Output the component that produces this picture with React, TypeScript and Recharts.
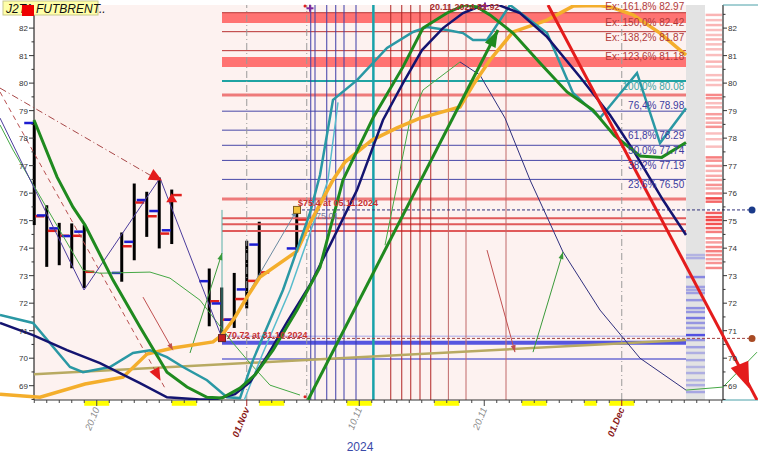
import React from 'react'
import {
  ComposedChart,
  XAxis,
  YAxis,
  Line,
  Bar,
  ReferenceLine,
  ReferenceArea,
  ReferenceDot,
} from 'recharts'

const W = 758
const H = 454
const X_MIN = -7.74
const X_MAX = 52.9
const Y_MIN = 68.48
const Y_MAX = 82.84
const AXIS_L = -5.02
const AXIS_R = 50.1
const PLOT_END = 47.14
const GRAY_END = 48.66
const FIB_START = 10.02
const FONT = 'Arial, "Liberation Sans", sans-serif'

// x = trading day offset from 20.10, y = price
const bars = [
  [-5, 78.55, 78.6, 74.84, 75.16],
  [-4, 75.19, 75.56, 73.32, 74.63],
  [-3, 74.72, 74.92, 73.38, 74.45],
  [-2, 74.44, 74.9, 73.27, 74.45],
  [-1, 74.6, 74.84, 72.55, 73.14],
  [2, 73.1, 74.57, 72.78, 74.07],
  [3, 74.23, 76.35, 73.56, 75.66],
  [4, 75.75, 76.05, 74.41, 75.16],
  [5, 75.35, 76.57, 73.99, 74.53],
  [6, 74.65, 76.13, 74.15, 75.93],
  [9, 72.8, 73.26, 71.16, 72.07],
  [10, 71.99, 72.57, 70.72, 71.4],
  [11, 71.4, 73.1, 71.1, 72.15],
  [12, 72.5, 74.27, 71.81, 72.81],
  [13, 74.13, 74.96, 72.93, 73.12],
  [16, 73.99, 75.4, 73.93, 75.04],
]

const orangeMA = [
  [-7.74, 68.69], [-4.54, 68.58], [-0.94, 69.06], [2.1, 69.31], [4.02, 70.15], [6.1, 70.37],
  [9.3, 70.59], [10.02, 70.84], [11.06, 71.49], [12.02, 72.22], [13.06, 72.95], [16.02, 73.89],
  [17.06, 74.91], [18.9, 76.48], [19.86, 77.13], [22.02, 77.93], [24.02, 78.37], [25.86, 78.73],
  [29.06, 79.13], [30.1, 79.93], [31.46, 80.84], [33.3, 81.86], [36.02, 82.29], [38.1, 82.8],
  [40.2, 82.82], [41.06, 82.77], [42.9, 82.48], [45.06, 81.82], [47.14, 81.02],
]

const navyMA = [
  [-7.74, 71.28], [-5.1, 70.84], [-2.38, 70.29], [0.26, 69.82], [3.46, 69.09], [5.62, 68.58],
  [8.26, 68.5], [9.46, 68.5], [11.06, 68.69], [12.26, 69.13], [13.62, 70.07], [15.22, 71.31],
  [17.06, 72.66], [18.66, 74.11], [20.82, 76.11], [22.9, 78.66], [24.5, 80.0], [26.02, 81.2],
  [27.7, 82.0], [29.3, 82.55], [30.9, 82.84], [32.0, 82.86], [33.86, 82.55], [36.02, 81.68],
  [38.66, 80.22], [41.06, 78.84], [42.9, 77.57], [45.3, 75.75], [47.14, 74.48],
]

const greenMA = [
  [-5.02, 78.66], [-3.18, 76.59], [-1.9, 75.49], [-0.94, 74.84], [1.3, 72.84], [3.46, 71.13],
  [5.62, 69.49], [7.22, 68.95], [8.82, 68.58], [10.02, 68.55], [11.46, 68.91], [12.66, 69.39],
  [14.1, 70.29], [16.02, 71.75], [17.86, 73.31], [19.7, 76.48], [22.1, 78.73], [24.5, 80.59],
  [26.1, 82.0], [28.02, 82.55], [29.46, 82.84], [30.42, 82.77], [31.46, 82.48], [33.3, 81.82],
  [35.46, 80.73], [37.62, 79.68], [39.7, 79.02], [41.4, 78.1], [43.46, 77.35], [45.2, 77.3],
  [47.14, 77.84],
]

const tealMA = [
  [-7.74, 71.57], [-5.1, 71.28], [-2.14, 69.68], [-1.1, 69.49], [1.06, 69.68], [2.9, 70.19],
  [4.26, 70.29], [5.62, 70.04], [6.9, 69.68], [8.82, 69.2], [10.42, 68.58], [11.46, 68.55],
  [12.5, 69.93], [14.9, 72.48], [17.06, 75.28], [17.86, 76.66], [18.9, 79.39], [20.82, 80.11],
  [23.22, 81.28], [25.3, 81.86], [26.42, 82.04], [28.02, 81.93], [29.3, 81.82], [30.1, 81.57],
  [31.22, 81.57], [33.06, 82.84], [36.02, 81.82], [38.1, 79.64], [40.26, 78.73], [43.22, 80.37],
  [45.06, 77.82], [47.14, 79.09],
]

const cyanThin = [
  [11.8, 68.48], [13.22, 70.11], [15.46, 72.48], [17.7, 75.39], [18.5, 76.48], [19.3, 79.3],
]

const greenThin = [
  [-7.74, 78.48], [-6.7, 77.57], [-1.1, 73.2], [0.26, 73.09], [4.26, 73.13], [5.86, 72.91],
  [8.26, 72.11], [10.9, 70.55], [12.26, 69.82], [13.86, 69.02], [16.26, 68.66],
]

const zigzag = [[-7.74, 78.73], [-1.02, 72.48], [5.06, 76.55], [10.02, 70.73]]

const bellUp = [[23.06, 74.11], [25.06, 78.66], [26.1, 79.75], [29.06, 80.77]]
const bellDown = [
  [29.06, 80.77], [30.66, 80.29], [32.66, 78.73], [34.66, 76.48], [36.5, 74.66], [37.3, 73.86],
  [40.26, 71.75], [43.46, 70.0], [47.14, 68.84],
]
const bellTail = [[47.14, 68.84], [50.1, 68.95], [52.82, 70.22]]

const trendA = [[-7.74, 79.82], [4.66, 76.55]]
const trendB = [[-7.74, 79.68], [5.46, 68.91]]
const olive = [[-5.02, 69.42], [47.14, 70.66]]
const greenArrow = [[16.9, 68.48], [32.1, 81.93]]
const redArrow = [[36.1, 82.84], [52.82, 68.48]]
const grayArrow = [[10.02, 70.73], [16.02, 75.39]]
const thinGreenArrows = [
  [[7.46, 70.19], [10.02, 73.82]],
  [[34.9, 70.22], [37.3, 73.86]],
]
const thinRedArrows = [
  [[3.7, 72.22], [6.1, 70.29]],
  [[31.22, 73.93], [33.46, 70.22]],
]

const fibLevels = [
  ['Ex: 161,8%', 82.97],
  ['Ex: 150,0%', 82.42],
  ['Ex: 138,2%', 81.87],
  ['Ex: 123,6%', 81.18],
  ['100,0%', 80.08],
  ['76,4%', 78.98],
  ['61,8%', 78.29],
  ['50,0%', 77.74],
  ['38,2%', 77.19],
  ['23,6%', 76.5],
]

const redBands = [[82.19, 82.55], [80.59, 80.95]]
const redThinLevels = [82.56, 81.87, 81.18]
const pinkLevels = [79.57, 75.79]
const redLowLevels = [75.09, 74.87, 74.62]

const blueVerticals = [17.12, 17.46, 18.4, 19.12, 19.78, 20.74]
const tealVertical = 22.13
const redVerticals = [23.52, 24.4, 25.12, 25.86, 26.72, 28.13, 29.54, 32.74]
const dashVerticals = [12, 16.8, 42]

const weekends = [[-1, 1], [6, 8], [13, 15], [20, 22], [27, 29], [34, 36], [39, 40], [41, 43]]

const redProfile = [
  [82.48, 0.35], [82.29, 0.3], [82.11, 0.35], [81.93, 0.3], [81.75, 0.3], [81.59, 0.35],
  [81.41, 0.3], [81.23, 0.3], [81.02, 0.3], [80.78, 0.35], [80.6, 0.3], [80.29, 0.3],
  [80.11, 0.3], [79.93, 0.3], [79.57, 0.55], [79.45, 0.5], [79.27, 0.3], [79.12, 0.35],
  [78.87, 0.45], [78.72, 0.4], [78.56, 0.4], [78.41, 0.5], [78.17, 0.3], [77.96, 0.3],
  [77.69, 0.3], [77.3, 0.6], [77.18, 0.5], [76.99, 0.45], [76.81, 0.35], [76.63, 0.4],
  [76.48, 0.45], [76.3, 0.5], [76.17, 0.4], [75.99, 0.55], [75.81, 0.85], [75.69, 0.7],
  [75.28, 0.75], [75.13, 0.8], [75.02, 0.85], [74.88, 0.8], [74.73, 0.75], [74.59, 0.6],
  [74.36, 0.5], [74.21, 0.45], [74.04, 0.55], [73.89, 0.6], [73.75, 0.5], [73.6, 0.45],
  [73.46, 0.5], [73.28, 0.55],
]

const blueProfile = [
  [73.75, 0.3], [73.64, 0.35], [72.95, 0.6], [72.59, 0.45], [72.48, 0.4], [72.37, 0.45],
  [72.11, 0.5], [71.82, 0.55], [71.68, 0.5], [71.46, 0.7], [71.28, 0.5], [71.1, 0.45],
  [70.84, 0.95], [70.66, 0.5], [70.4, 0.45], [70.19, 0.35], [69.93, 0.4], [69.68, 0.3],
  [69.46, 0.35], [69.2, 0.3], [69.02, 0.35], [68.77, 0.4],
]

const priceTicks = [69, 70, 71, 72, 73, 74, 75, 76, 77, 78, 79, 80, 81, 82]
const halfTicks = [68.5, 69.5, 70.5, 71.5, 72.5, 73.5, 74.5, 75.5, 76.5, 77.5, 78.5, 79.5, 80.5, 81.5, 82.5]
const dayTicks = Array.from({ length: 56 }, (_, i) => i - 5)
const dateLabels: Record<number, string> = { 0: '20.10', 12: '01.Nov', 21: '10.11', 31: '20.11', 42: '01.Dec' }
const monthStarts = [12, 42]

const barRows = bars.map(([d, open, high, low, close]) => ({ d, open, high, low, close }))
const pts = (a: number[][]) => a.map(([d, p]) => ({ d, p }))

const DayTick = (props: any) => {
  const { x, y, payload } = props
  const v = payload.value
  const lab = dateLabels[v]
  const month = monthStarts.includes(v)
  return (
    <g>
      <line x1={x} x2={x} y1={y} y2={y + (lab ? 6 : 3)} stroke={month ? '#a02020' : '#444'} />
      {lab && (
        <text
          x={x + 3}
          y={y + 9}
          transform={`rotate(-68, ${x + 3}, ${y + 9})`}
          textAnchor="end"
          fontSize={9.5}
          fontStyle="italic"
          fontWeight={month ? 'bold' : 'normal'}
          fill={month ? '#8b1a1a' : '#8c8c8c'}
          fontFamily={FONT}
        >
          {lab}
        </text>
      )}
    </g>
  )
}

const OhlcShape = (p: any) => {
  const { x, y, width, height, payload } = p
  if (!payload) return <g />
  const top = Math.min(y, y + height)
  const h = Math.abs(height)
  const cx = x + width / 2
  const k = h / (payload.high - payload.low)
  const yo = top + (payload.high - payload.open) * k
  const yc = top + (payload.high - payload.close) * k
  return (
    <g>
      <line x1={cx} x2={cx} y1={top} y2={top + h} stroke="#000" strokeWidth={3} />
      <line x1={cx - 10} x2={cx - 1} y1={yo} y2={yo} stroke="#1c1cd0" strokeWidth={2.5} />
      <line x1={cx + 1} x2={cx + 10} y1={yc} y2={yc} stroke="#e0201c" strokeWidth={2.5} />
    </g>
  )
}

const arrowHead = (angle: number, len: number, wid: number, fill: string) => (p: any) => {
  const a = (angle * Math.PI) / 180
  const bx = p.cx - len * Math.cos(a)
  const by = p.cy - len * Math.sin(a)
  const nx = -Math.sin(a) * (wid / 2)
  const ny = Math.cos(a) * (wid / 2)
  return <polygon points={`${p.cx},${p.cy} ${bx + nx},${by + ny} ${bx - nx},${by - ny}`} fill={fill} />
}

const textShape = (text: string, dx: number, dy: number, fill: string, size = 9, anchor = 'start', weight = 'normal') => (p: any) => (
  <text x={p.cx + dx} y={p.cy + dy} fill={fill} fontSize={size} textAnchor={anchor} fontWeight={weight} fontFamily={FONT}>
    {text}
  </text>
)

const fibColor = (name: string) => (name.startsWith('Ex') ? '#b03a3a' : name.startsWith('100') ? '#3aa5a5' : '#3c3ca0')

export default function App() {
  const line = (data: number[][], stroke: string, width: number, extra: any = {}) => (
    <Line
      data={pts(data)}
      dataKey="p"
      type="linear"
      stroke={stroke}
      strokeWidth={width}
      dot={false}
      activeDot={false}
      isAnimationActive={false}
      {...extra}
    />
  )

  return (
    <div style={{ position: 'fixed', left: 0, top: 0, width: W, height: H, background: '#fff' }}>
      <ComposedChart width={W} height={H} data={barRows} margin={{ top: 5, right: 0, bottom: 0, left: 0 }}>
        <XAxis
          type="number"
          dataKey="d"
          domain={[X_MIN, X_MAX]}
          allowDataOverflow
          ticks={dayTicks}
          interval={0}
          tick={<DayTick />}
          tickLine={false}
          axisLine={false}
          tickSize={0}
          tickMargin={0}
          height={54}
        />
        <YAxis type="number" hide domain={[Y_MIN, Y_MAX]} allowDataOverflow />

        {/* backgrounds */}
        <ReferenceArea x1={AXIS_L} x2={PLOT_END} y1={Y_MIN} y2={Y_MAX} fill="#fdf2f0" fillOpacity={1} stroke="none" />
        <ReferenceArea x1={PLOT_END} x2={GRAY_END} y1={Y_MIN} y2={Y_MAX} fill="#e3e3e3" fillOpacity={1} stroke="none" />

        {/* volume profile */}
        {redProfile.map(([v, a], i) => (
          <ReferenceArea key={'rp' + i} x1={GRAY_END + 0.05} x2={AXIS_R - 0.08} y1={v - 0.045} y2={v + 0.045} fill="#f02828" fillOpacity={a} stroke="none" />
        ))}
        {blueProfile.map(([v, a], i) => (
          <ReferenceArea key={'bp' + i} x1={PLOT_END} x2={GRAY_END} y1={v - 0.045} y2={v + 0.045} fill="#4a4ae0" fillOpacity={a} stroke="none" />
        ))}

        {/* horizontal levels */}
        {redBands.map(([a, b], i) => (
          <ReferenceArea key={'rb' + i} x1={FIB_START} x2={PLOT_END} y1={a} y2={b} fill="#ff4848" fillOpacity={0.75} stroke="none" />
        ))}
        {redThinLevels.map((v, i) => (
          <ReferenceLine key={'rt' + i} segment={[{ x: FIB_START, y: v }, { x: PLOT_END, y: v }]} stroke="#b83030" strokeWidth={1} />
        ))}
        {pinkLevels.map((v, i) => (
          <ReferenceLine key={'pl' + i} segment={[{ x: FIB_START, y: v }, { x: PLOT_END, y: v }]} stroke="#ee7a7a" strokeWidth={3} />
        ))}
        {redLowLevels.map((v, i) => (
          <ReferenceLine key={'rl' + i} segment={[{ x: FIB_START, y: v }, { x: PLOT_END, y: v }]} stroke="#e05a5a" strokeWidth={2} />
        ))}
        {fibLevels.slice(5).map(([, v], i) => (
          <ReferenceLine key={'fb' + i} segment={[{ x: FIB_START, y: v as number }, { x: PLOT_END, y: v as number }]} stroke="#4848a8" strokeWidth={1} />
        ))}
        <ReferenceLine segment={[{ x: FIB_START, y: 80.08 }, { x: PLOT_END, y: 80.08 }]} stroke="#1fa3a3" strokeWidth={2} />
        <ReferenceLine segment={[{ x: FIB_START, y: 70.8 }, { x: PLOT_END, y: 70.8 }]} stroke="#a8a8e8" strokeWidth={1} />
        <ReferenceLine segment={[{ x: FIB_START, y: 70.56 }, { x: PLOT_END, y: 70.56 }]} stroke="#5656e0" strokeWidth={4} />
        <ReferenceLine segment={[{ x: FIB_START, y: 69.97 }, { x: PLOT_END, y: 69.97 }]} stroke="#6c6cd4" strokeWidth={1.5} />

        {/* verticals */}
        {dashVerticals.map((v, i) => (
          <ReferenceLine key={'dv' + i} x={v} stroke="#9a9a9a" strokeDasharray="7 3 1 3" />
        ))}
        {blueVerticals.map((v, i) => (
          <ReferenceLine key={'bv' + i} x={v} stroke="#3c3ca8" strokeWidth={1} />
        ))}
        <ReferenceLine x={tealVertical} stroke="#18a2aa" strokeWidth={2.5} />
        {redVerticals.map((v, i) => (
          <ReferenceLine key={'rv' + i} x={v} stroke={i < 5 ? '#b02424' : '#c06868'} strokeWidth={1} />
        ))}
        <ReferenceLine segment={[{ x: FIB_START, y: 70.66 }, { x: FIB_START, y: 75.39 }]} stroke="#58b0a8" strokeWidth={1} />

        {/* dotted markers to the right */}
        <ReferenceLine segment={[{ x: FIB_START, y: 70.72 }, { x: 52.42, y: 70.72 }]} stroke="#a04040" strokeDasharray="3 2" />
        <ReferenceLine segment={[{ x: 16.02, y: 75.39 }, { x: 52.42, y: 75.39 }]} stroke="#30307a" strokeDasharray="3 2" />

        {/* axes frame */}
        <ReferenceLine x={AXIS_L} stroke="#000" strokeWidth={1} />
        <ReferenceLine x={AXIS_R} stroke="#000" strokeWidth={1} />
        <ReferenceLine segment={[{ x: AXIS_L, y: Y_MIN }, { x: AXIS_R, y: Y_MIN }]} stroke="#333" strokeWidth={1} />
        <ReferenceLine segment={[{ x: AXIS_R, y: Y_MIN }, { x: X_MAX, y: Y_MIN }]} stroke="#4aa0a8" strokeWidth={1} />
        <ReferenceLine segment={[{ x: AXIS_R, y: Y_MAX }, { x: X_MAX, y: Y_MAX }]} stroke="#4aa0a8" strokeWidth={1} />
        {weekends.map(([a, b], i) => (
          <ReferenceArea key={'we' + i} x1={a} x2={b} y1={68.45} y2={68.27} fill="#ffff00" fillOpacity={1} stroke="none" ifOverflow="visible" />
        ))}

        {/* indicator lines */}
        {line(olive, '#b8aa62', 2.5)}
        {line(trendA, '#a84848', 1, { strokeDasharray: '7 3 1 3' })}
        {line(trendB, '#b85050', 1, { strokeDasharray: '5 4' })}
        {line(greenThin, '#45a845', 1)}
        {line(zigzag, '#4b3c9c', 1)}
        {line(bellUp, '#45a845', 1)}
        {line(bellDown, '#30307e', 1)}
        {line(bellTail, '#45a845', 1)}
        {line(grayArrow, '#6a8aa0', 1)}
        {thinGreenArrows.map((a, i) => <React.Fragment key={'ga' + i}>{line(a, '#3a9a3a', 1)}</React.Fragment>)}
        {thinRedArrows.map((a, i) => <React.Fragment key={'ra' + i}>{line(a, '#c05050', 1)}</React.Fragment>)}
        {line(cyanThin, '#58bccc', 1.5)}
        {line(orangeMA, '#f4ae2c', 3.5)}
        {line(tealMA, '#2a98a4', 2.5)}
        {line(navyMA, '#141470', 2.5)}
        {line(greenMA, '#1f8a1f', 3)}
        {line(greenArrow, '#1f8a1f', 3)}
        {line(redArrow, '#e41c1c', 3)}

        <Bar dataKey={(e: any) => [e.low, e.high]} barSize={3} shape={OhlcShape} isAnimationActive={false} />

        {/* arrow heads */}
        <ReferenceDot x={32.1} y={81.93} r={0} ifOverflow="visible" shape={arrowHead(-62.8, 17, 12, '#1f8a1f')} />
        <ReferenceDot x={52.2} y={68.9} r={0} ifOverflow="visible" shape={arrowHead(68, 26, 19, '#e41c1c')} />
        <ReferenceDot x={5.22} y={76.46} r={0} shape={arrowHead(28, 13, 12, '#e41c1c')} />
        <ReferenceDot x={5.1} y={69.18} r={0} shape={arrowHead(62, 13, 11, '#e41c1c')} />
        <ReferenceDot x={6.0} y={76.0} r={0} shape={arrowHead(-90, 9, 11, '#e41c1c')} />
        <ReferenceDot x={16.02} y={75.39} r={0} shape={arrowHead(-59.6, 7, 5, '#6a8aa0')} />
        <ReferenceDot x={10.02} y={73.82} r={0} shape={arrowHead(-72, 7, 5, '#3a9a3a')} />
        <ReferenceDot x={37.3} y={73.86} r={0} shape={arrowHead(-73, 7, 5, '#3a9a3a')} />
        <ReferenceDot x={6.1} y={70.29} r={0} shape={arrowHead(60, 7, 5, '#c05050')} />
        <ReferenceDot x={33.46} y={70.22} r={0} shape={arrowHead(75, 7, 5, '#c05050')} />

        {/* markers */}
        <ReferenceDot x={10.02} y={70.73} r={0} shape={(p: any) => <rect x={p.cx - 3.5} y={p.cy - 3.5} width={7} height={7} fill="#c82020" stroke="#6a2020" />} />
        <ReferenceDot x={16.02} y={75.39} r={0} shape={(p: any) => <rect x={p.cx - 3.5} y={p.cy - 3.5} width={7} height={7} fill="#f2c23c" stroke="#806020" />} />
        <ReferenceDot x={52.42} y={75.39} r={3.5} fill="#1a3a8a" stroke="none" ifOverflow="visible" />
        <ReferenceDot x={52.42} y={70.72} r={3.5} fill="#a84a24" stroke="none" ifOverflow="visible" />
        <ReferenceDot x={16.66} y={82.8} r={1.5} fill="#e02020" stroke="none" />
        <ReferenceDot x={16.66} y={68.6} r={1.5} fill="#e02020" stroke="none" />
        {[[17.06, 82.72], [31.06, 82.8]].map(([x, y], i) => (
          <ReferenceDot key={'pm' + i} x={x} y={y} r={0} ifOverflow="visible" shape={(p: any) => (
            <g stroke="#7a2aa0" strokeWidth={2}>
              <line x1={p.cx - 3.5} x2={p.cx + 3.5} y1={p.cy} y2={p.cy} />
              <line x1={p.cx} x2={p.cx} y1={p.cy - 3.5} y2={p.cy + 3.5} />
            </g>
          )} />
        ))}

        {/* texts */}
        <ReferenceDot x={10.02} y={70.73} r={0} shape={textShape('70.72 at 31.10.2024', 5, 0, '#c83030', 9, 'start', 'bold')} />
        <ReferenceDot x={16.02} y={75.39} r={0} shape={textShape('$75.4 at 05.11.2024', 1, -4, '#c83030', 9, 'start', 'bold')} />
        <ReferenceDot x={17.54} y={75.01} r={0} shape={textShape('75.01', 0, -1, '#7a7a98', 9)} />
        <ReferenceDot x={26.66} y={82.66} r={0} shape={textShape('20.11.2024 82.92', 0, 0, '#a83030', 9, 'start', 'bold')} />
        {fibLevels.map(([name, v], i) => (
          <ReferenceDot
            key={'fl' + i}
            x={47.0}
            y={v as number}
            r={0}
            ifOverflow="visible"
            shape={textShape(`${name} ${(v as number).toFixed(2)}`, 0, name === '76,4%' ? -2 : 9, fibColor(name as string), 10, 'end')}
          />
        ))}

        {/* left axis */}
        {priceTicks.map((v) => (
          <ReferenceDot key={'lt' + v} x={AXIS_L} y={v} r={0} shape={(p: any) => (
            <g>
              <line x1={p.cx - 5} x2={p.cx} y1={p.cy} y2={p.cy} stroke="#333" />
              <text x={p.cx - 6} y={p.cy + 3} fontSize={8} textAnchor="end" fill="#333" fontFamily={FONT}>{v}</text>
            </g>
          )} />
        ))}
        {halfTicks.map((v) => (
          <ReferenceDot key={'lh' + v} x={AXIS_L} y={v} r={0} shape={(p: any) => <line x1={p.cx - 2.5} x2={p.cx} y1={p.cy} y2={p.cy} stroke="#333" />} />
        ))}
        {/* right axis */}
        {priceTicks.map((v) => (
          <ReferenceDot key={'rt' + v} x={AXIS_R} y={v} r={0} shape={(p: any) => (
            <g>
              <line x1={p.cx} x2={p.cx + 4} y1={p.cy} y2={p.cy} stroke="#333" />
              <text x={p.cx + 5} y={p.cy + 3} fontSize={8} fill="#333" fontFamily={FONT}>{v}</text>
            </g>
          )} />
        ))}
        {halfTicks.map((v) => (
          <ReferenceDot key={'rh' + v} x={AXIS_R} y={v} r={0} shape={(p: any) => <line x1={p.cx} x2={p.cx + 2.5} y1={p.cy} y2={p.cy} stroke="#333" />} />
        ))}

        {/* title box and year */}
        <ReferenceDot x={AXIS_L} y={Y_MAX} r={0} ifOverflow="visible" shape={(p: any) => (
          <g>
            <rect x={p.cx - 31} y={p.cy - 4} width={95} height={14} fill="#ffffa8" stroke="#c8c890" />
            <text x={p.cx - 28} y={p.cy + 7.5} fontSize={12} fontStyle="italic" fill="#111" fontFamily={FONT}>J2TA FUTBRENT..</text>
            <rect x={p.cx - 12} y={p.cy} width={12} height={11} fill="#ee0000" />
          </g>
        )} />
        <ReferenceDot x={21.06} y={Y_MIN} r={0} ifOverflow="visible" shape={textShape('2024', 0, 51, '#3a4aa8', 12, 'middle')} />
      </ComposedChart>
    </div>
  )
}
